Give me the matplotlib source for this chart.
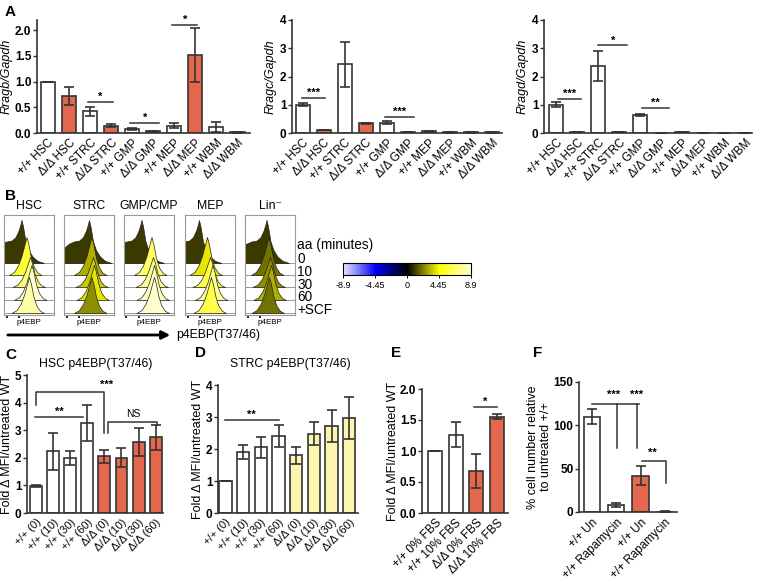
import numpy as np
import matplotlib
matplotlib.use('Agg')
import matplotlib.pyplot as plt
from matplotlib.colors import LinearSegmentedColormap, Normalize
from matplotlib.cm import ScalarMappable

plt.rcParams['font.family'] = ['Liberation Sans', 'DejaVu Sans']
plt.rcParams['axes.unicode_minus'] = False

W, H = 761, 583
ORANGE = '#e4684e'
PALE = '#fdf4b0'
EDGE = '#333333'

# ---- panel A data
a_labels = ['+/+ HSC', 'Δ/Δ HSC', '+/+ STRC', 'Δ/Δ STRC', '+/+ GMP',
            'Δ/Δ GMP', '+/+ MEP', 'Δ/Δ MEP', '+/+ WBM', 'Δ/Δ WBM']
rragb = [1.0, 0.72, 0.42, 0.14, 0.08, 0.03, 0.14, 1.52, 0.12, 0.01]
rragb_err = [0, 0.18, 0.08, 0.03, 0.015, 0.01, 0.05, 0.52, 0.1, 0.005]
rragc = [1.0, 0.1, 2.43, 0.35, 0.37, 0.03, 0.06, 0.02, 0.02, 0.02]
rragc_err = [0.06, 0.01, 0.8, 0.02, 0.04, 0.01, 0.02, 0.005, 0.005, 0.005]
rragd = [1.0, 0.03, 2.37, 0.04, 0.65, 0.01, 0.03, 0.005, 0.01, 0.005]
rragd_err = [0.08, 0.01, 0.52, 0.01, 0.04, 0.005, 0.01, 0, 0.005, 0]

# ---- panel B data (flow histograms)
b_panels = ['HSC', 'STRC', 'GMP/CMP', 'MEP', 'Lin⁻']
b_rows = ['0', '10', '30', '60', '+SCF']
b_peak = [[0.35, 0.45, 0.52, 0.55, 0.5],
          [0.5, 0.55, 0.58, 0.6, 0.55],
          [0.35, 0.55, 0.58, 0.6, 0.6],
          [0.28, 0.44, 0.5, 0.55, 0.52],
          [0.43, 0.47, 0.5, 0.52, 0.48]]
b_heat = [[1.0, 5.5, 7.0, 8.9, 8.0],
          [1.0, 3.0, 3.5, 4.0, 2.5],
          [1.0, 6.5, 7.5, 8.5, 8.9],
          [1.0, 4.0, 6.0, 7.5, 6.0],
          [1.0, 2.0, 2.5, 3.0, 2.0]]
broad_dx = [-0.5, -0.4, -0.3, -0.2, -0.12, -0.06, -0.02, 0, 0.03, 0.08, 0.14, 0.22, 0.32, 0.45]
broad_h = [0.35, 0.45, 0.5, 0.52, 0.6, 0.75, 0.9, 1.0, 0.85, 0.5, 0.3, 0.15, 0.05, 0.0]
narrow_dx = [-0.35, -0.25, -0.17, -0.1, -0.05, 0, 0.04, 0.09, 0.15, 0.22, 0.3]
narrow_h = [0, 0.08, 0.25, 0.5, 0.75, 1.0, 0.8, 0.45, 0.2, 0.06, 0]
cbar_ticks = [-8.9, -4.45, 0, 4.45, 8.9]

# ---- panel C / D data
cd_labels = ['+/+ (0)', '+/+ (10)', '+/+ (30)', '+/+ (60)',
             'Δ/Δ (0)', 'Δ/Δ (10)', 'Δ/Δ (30)', 'Δ/Δ (60)']
hsc_fold = [0.97, 2.23, 2.0, 3.25, 2.05, 2.0, 2.58, 2.75]
hsc_err = [0.03, 0.67, 0.25, 0.65, 0.23, 0.35, 0.5, 0.45]
strc_fold = [1.0, 1.9, 2.05, 2.4, 1.8, 2.48, 2.73, 2.97]
strc_err = [0, 0.22, 0.32, 0.35, 0.27, 0.37, 0.5, 0.67]

# ---- panel E data
e_labels = ['+/+ 0% FBS', '+/+ 10% FBS', 'Δ/Δ 0% FBS', 'Δ/Δ 10% FBS']
fbs_fold = [1.0, 1.26, 0.68, 1.55]
fbs_err = [0, 0.2, 0.27, 0.04]

# ---- panel F data
f_labels = ['+/+ Un', '+/+ Rapamycin', '+/+ Un', '+/+ Rapamycin']
cell_pct = [110, 8, 42, 0.5]
cell_err = [9, 2, 11, 0.3]

fig = plt.figure(figsize=(W / 100, H / 100), dpi=100)


def px_axes(l, t, r, b):
    return fig.add_axes([l / W, 1 - b / H, (r - l) / W, (b - t) / H])


def ftext(x, y, s, **kw):
    fig.text(x / W, 1 - y / H, s, **kw)


def bar_panel(ax, vals, errs, colors, labels, ylim, yticks, yticklabels,
              xlim, bw=0.68, fs=8.5):
    x = np.arange(len(vals))
    ax.bar(x, vals, width=bw, color=colors, edgecolor=EDGE, linewidth=1.2, zorder=2)
    ax.errorbar(x, vals, yerr=errs, fmt='none', ecolor=EDGE, elinewidth=1.2,
                capsize=3.5, capthick=1.2, zorder=3)
    ax.set_xlim(*xlim)
    ax.set_ylim(*ylim)
    ax.set_yticks(yticks)
    ax.set_yticklabels(yticklabels, fontsize=8.5, fontweight='bold')
    ax.set_xticks(x)
    ax.set_xticklabels(labels, rotation=45, ha='right', rotation_mode='anchor', fontsize=fs)
    for s in ['top', 'right']:
        ax.spines[s].set_visible(False)
    for s in ['left', 'bottom']:
        ax.spines[s].set_linewidth(1.2)
        ax.spines[s].set_color(EDGE)
    ax.tick_params(axis='y', length=3, width=1, pad=1, color=EDGE)
    ax.tick_params(axis='x', length=0, pad=3)
    ax.patch.set_alpha(0)


def sig(ax, x0, x1, y, txt, fs=8):
    ax.plot([x0, x1], [y, y], color=EDGE, lw=1.1, clip_on=False)
    ax.text((x0 + x1) / 2, y, txt, ha='center', va='bottom', fontsize=fs,
            fontweight='bold', clip_on=False)


alt = ['white', ORANGE] * 5

# ================= Panel A
ax1 = px_axes(37, 20, 250, 133)
bar_panel(ax1, rragb, rragb_err, alt, a_labels, (0, 2.2), [0, 0.5, 1, 1.5, 2],
          ['0.0', '0.5', '1.0', '1.5', '2.0'], (-0.52, 9.6))
ax1.set_ylabel('Rragb/Gapdh', fontstyle='italic', fontsize=9, labelpad=2)
sig(ax1, 1.9, 3.1, 0.6, '*')
sig(ax1, 3.9, 5.3, 0.2, '*')
sig(ax1, 5.9, 7.1, 2.1, '*')

ax2 = px_axes(292, 20, 502, 133)
bar_panel(ax2, rragc, rragc_err, alt, a_labels, (0, 4), [0, 1, 2, 3, 4],
          ['0', '1', '2', '3', '4'], (-0.52, 9.48))
ax2.set_ylabel('Rragc/Gapdh', fontstyle='italic', fontsize=9, labelpad=2)
sig(ax2, -0.05, 1.05, 1.25, '***')
sig(ax2, 3.9, 5.3, 0.57, '***')

ax3 = px_axes(544, 20, 752, 133)
bar_panel(ax3, rragd, rragd_err, alt, a_labels, (0, 4), [0, 1, 2, 3, 4],
          ['0', '1', '2', '3', '4'], (-0.57, 9.33))
ax3.set_ylabel('Rragd/Gapdh', fontstyle='italic', fontsize=9, labelpad=2)
sig(ax3, 0.1, 1.2, 1.2, '***')
sig(ax3, 2.0, 3.4, 3.1, '*')
sig(ax3, 4.1, 5.4, 0.88, '**')

ftext(5, 12, 'A', fontsize=11, fontweight='bold', va='center')

# ================= Panel B
cmap = LinearSegmentedColormap.from_list(
    'bky', [(0, '#e8e8ff'), (0.25, '#0000ff'), (0.5, '#000000'),
            (0.75, '#ffff00'), (1.0, '#ffffd0')])
norm = Normalize(-8.9, 8.9)
baselines = [52, 40, 28, 15, 2]
row_height = [43, 38, 30, 35, 36]
box_lefts = [4, 64, 124, 185, 245]
for p, name in enumerate(b_panels):
    l = box_lefts[p]
    ax = px_axes(l, 215, l + 50, 315)
    ax.set_xlim(0, 1)
    ax.set_ylim(0, 100)
    ax.set_xticks([0.05, 0.3])
    ax.set_xticklabels([])
    ax.set_yticks([])
    ax.tick_params(axis='x', length=2, width=1.2, color='black', direction='out')
    for s in ax.spines.values():
        s.set_color('#999999')
        s.set_linewidth(0.8)
    for r in range(len(b_rows)):
        base = baselines[r]
        ax.axhline(base, color='#999999', lw=0.7, zorder=2 * r + 1)
        if r == 0:
            dx, hh = broad_dx, broad_h
        else:
            dx, hh = narrow_dx, narrow_h
        xs = np.array(dx) + b_peak[p][r]
        ys = base + np.array(hh) * row_height[r]
        ax.fill_between(xs, base, ys, color=cmap(norm(b_heat[p][r])),
                        edgecolor='#222222', linewidth=0.5, zorder=2 * r + 2)
    ftext(l + 25, 206, name, fontsize=8.8, ha='center', va='center')
    ftext(l + 25, 323, 'p4EBP', fontsize=5.8, ha='center', va='center')

ftext(5, 196, 'B', fontsize=11, fontweight='bold', va='center')
ftext(297, 245, 'aa (minutes)', fontsize=9.8, va='center')
for i, lab in enumerate(b_rows):
    ftext(297, 259 + i * 12.8, lab, fontsize=9.8, va='center')

cax = px_axes(343, 263, 471, 275)
cb = fig.colorbar(ScalarMappable(norm=norm, cmap=cmap), cax=cax, orientation='horizontal')
cb.set_ticks(cbar_ticks)
cb.set_ticklabels(['-8.9', '-4.45', '0', '4.45', '8.9'])
cb.ax.tick_params(labelsize=6.5, length=2, width=0.7, pad=2)
cb.outline.set_linewidth(0.8)

fig.add_artist(matplotlib.patches.FancyArrowPatch(
    (5 / W, 1 - 335 / H), (173 / W, 1 - 335 / H), transform=fig.transFigure,
    arrowstyle='-|>', mutation_scale=12, lw=2, color='black'))
ftext(176, 335, 'p4EBP(T37/46)', fontsize=8.8, va='center')

# ================= Panel C
axc = px_axes(27, 375, 163, 513)
bar_panel(axc, hsc_fold, hsc_err, ['white'] * 4 + [ORANGE] * 4, cd_labels, (0, 5),
          [0, 1, 2, 3, 4, 5], ['0', '1', '2', '3', '4', '5'], (-0.53, 7.43), bw=0.7, fs=8)
axc.set_ylabel('Fold Δ MFI/untreated WT', fontsize=9, labelpad=1)
ftext(96, 364, 'HSC p4EBP(T37/46)', fontsize=8.8, ha='center', va='center')
axc.plot([0, 0, 4, 4], [3.9, 4.4, 4.4, 2.9], color=EDGE, lw=1.1, clip_on=False)
axc.text(4.15, 4.45, '***', ha='center', va='bottom', fontsize=8, fontweight='bold')
sig(axc, -0.05, 2.75, 3.48, '**')
axc.plot([4.2, 4.2, 7.1, 7.1], [2.9, 3.3, 3.3, 3.2], color=EDGE, lw=1.1, clip_on=False)
axc.text(5.7, 3.4, 'NS', ha='center', va='bottom', fontsize=7.5)
ftext(5, 355, 'C', fontsize=11, fontweight='bold', va='center')

# ================= Panel D
axd = px_axes(218, 385, 358, 513)
bar_panel(axd, strc_fold, strc_err, ['white'] * 4 + [PALE] * 4, cd_labels, (0, 4),
          [0, 1, 2, 3, 4], ['0', '1', '2', '3', '4'], (-0.43, 7.5), bw=0.7, fs=8)
axd.set_ylabel('Fold Δ MFI/untreated WT', fontsize=9, labelpad=1)
ftext(290, 364, 'STRC p4EBP(T37/46)', fontsize=8.8, ha='center', va='center')
sig(axd, -0.05, 3.0, 2.9, '**')
ftext(195, 353, 'D', fontsize=11, fontweight='bold', va='center')

# ================= Panel E
axe = px_axes(422, 389, 508, 513)
bar_panel(axe, fbs_fold, fbs_err, ['white', 'white', ORANGE, ORANGE], e_labels, (0, 2),
          [0, 0.5, 1, 1.5, 2], ['0.0', '0.5', '1.0', '1.5', '2.0'], (-0.63, 3.54))
axe.set_ylabel('Fold Δ MFI/untreated WT', fontsize=9, labelpad=1)
sig(axe, 1.9, 3.0, 1.71, '*')
ftext(391, 353, 'E', fontsize=11, fontweight='bold', va='center')

# ================= Panel F
axf = px_axes(579, 382, 677, 512)
bar_panel(axf, cell_pct, cell_err, ['white', 'white', ORANGE, 'white'], f_labels, (0, 150),
          [0, 50, 100, 150], ['0', '50', '100', '150'], (-0.54, 3.5), bw=0.67)
axf.set_ylabel('% cell number relative\nto untreated +/+', fontsize=9, labelpad=1,
               linespacing=1.1)
axf.plot([0, 1.93], [125, 125], color=EDGE, lw=1.1, clip_on=False)
axf.plot([1.03, 1.03], [125, 74], color=EDGE, lw=1.1)
axf.plot([1.87, 1.87], [125, 74], color=EDGE, lw=1.1)
axf.text(0.88, 129, '***', ha='center', va='bottom', fontsize=8, fontweight='bold')
axf.text(1.84, 129, '***', ha='center', va='bottom', fontsize=8, fontweight='bold')
axf.plot([2.07, 3.05, 3.05], [59, 59, 33], color=EDGE, lw=1.1)
axf.text(2.5, 62, '**', ha='center', va='bottom', fontsize=8, fontweight='bold')
ftext(533, 353, 'F', fontsize=11, fontweight='bold', va='center')

fig.savefig('out.png', dpi=100)
